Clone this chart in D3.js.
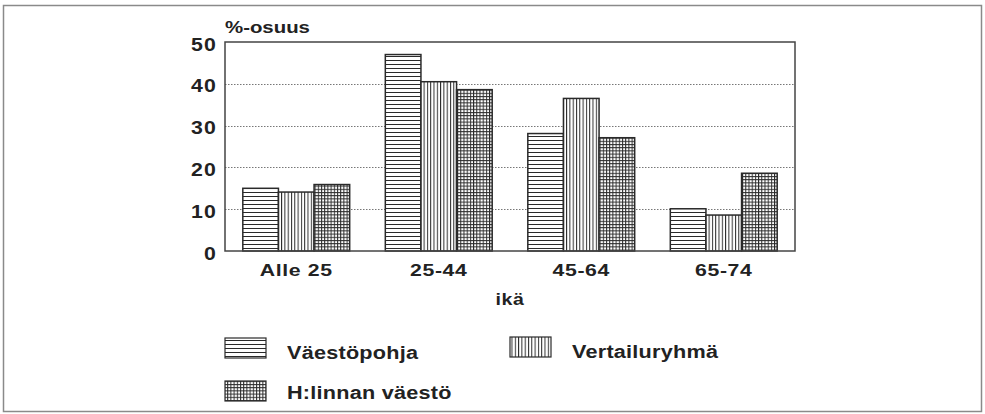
<!DOCTYPE html>
<html><head><meta charset="utf-8">
<script src="https://cdn.jsdelivr.net/npm/d3@7"></script>
<style>
html,body{margin:0;padding:0;background:#fff;}
text{font-family:"Liberation Sans",Arial,sans-serif;font-weight:bold;fill:#222;}
</style></head>
<body>
<svg id="chart" width="985" height="414"></svg>
<script>
const categories = ["Alle 25", "25-44", "45-64", "65-74"];
const seriesNames = ["Väestöpohja", "Vertailuryhmä", "H:linnan väestö"];
const vaestopohja = [15.0, 47.0, 28.1, 10.1];
const vertailuryhma = [14.1, 40.5, 36.5, 8.6];
const hlinnanVaesto = [15.9, 38.6, 27.1, 18.6];
const yTicks = [0, 10, 20, 30, 40, 50];
const yLabel = "%-osuus";
const xLabel = "ikä";

const seriesValues = [vaestopohja, vertailuryhma, hlinnanVaesto];
const patternIds = ["pH", "pV", "pX"];

const svg = d3.select("#chart");
const ink = "#2a2a2a";

// patterns
const defs = svg.append("defs");
const pH = defs.append("pattern").attr("id","pH").attr("patternUnits","userSpaceOnUse").attr("width",8).attr("height",4);
pH.append("rect").attr("width",8).attr("height",4).attr("fill","#fff");
pH.append("line").attr("x1",0).attr("x2",8).attr("y1",0.5).attr("y2",0.5).attr("stroke",ink).attr("stroke-width",1);
const pV = defs.append("pattern").attr("id","pV").attr("patternUnits","userSpaceOnUse").attr("width",3.3).attr("height",8);
pV.append("rect").attr("width",3.3).attr("height",8).attr("fill","#fff");
pV.append("line").attr("x1",0.5).attr("x2",0.5).attr("y1",0).attr("y2",8).attr("stroke",ink).attr("stroke-width",1);
const pX = defs.append("pattern").attr("id","pX").attr("patternUnits","userSpaceOnUse").attr("width",3.2).attr("height",3.2);
pX.append("rect").attr("width",3.2).attr("height",3.2).attr("fill","#fff");
pX.append("line").attr("x1",0.5).attr("x2",0.5).attr("y1",0).attr("y2",3.2).attr("stroke",ink).attr("stroke-width",1);
pX.append("line").attr("x1",0).attr("x2",3.2).attr("y1",0.5).attr("y2",0.5).attr("stroke",ink).attr("stroke-width",1);

// outer frame
svg.append("rect").attr("x",3.5).attr("y",5.5).attr("width",978).attr("height",406)
  .attr("fill","none").attr("stroke","#8a8a8a").attr("stroke-width",1.5);

const L = 225, R = 795, T = 42, B = 251;
const x = d3.scaleBand().domain(categories).range([L, R]).padding(0);
const xs = d3.scaleBand().domain(seriesNames).range([0, x.bandwidth()]).paddingInner(0).paddingOuter(0.5);
const y = d3.scaleLinear().domain([0, 50]).range([B, T]);

// gridlines
svg.append("g").selectAll("line").data(yTicks.filter(t => t > 0 && t < 50)).join("line")
  .attr("x1", L).attr("x2", R).attr("y1", d => Math.round(y(d))+0.5).attr("y2", d => Math.round(y(d))+0.5)
  .attr("stroke","#777").attr("stroke-width",1).attr("stroke-dasharray","1.5,1.5");

// bars
const groups = svg.append("g").selectAll("g").data(categories).join("g")
  .attr("transform", d => `translate(${x(d)},0)`);
groups.selectAll("rect").data((c, i) => seriesNames.map((s, j) => ({s, j, v: seriesValues[j][i]}))).join("rect")
  .attr("x", d => xs(d.s)).attr("width", xs.bandwidth())
  .attr("y", d => y(d.v)).attr("height", d => y(0) - y(d.v))
  .attr("fill", d => `url(#${patternIds[d.j]})`)
  .attr("stroke", ink).attr("stroke-width", 1.5);

// plot frame
svg.append("rect").attr("x",L).attr("y",T).attr("width",R-L).attr("height",B-T)
  .attr("fill","none").attr("stroke","#444").attr("stroke-width",1.5);

// y axis
const yAxis = d3.axisLeft(y).tickValues(yTicks).tickSize(0).tickPadding(8).tickFormat(d3.format("d"));
const ya = svg.append("g").attr("transform",`translate(${L},0)`).call(yAxis);
ya.select(".domain").remove();
ya.selectAll("text").style("font-size","18.5px").style("font-family","'Liberation Sans',Arial,sans-serif")
  .style("font-weight","bold").style("letter-spacing","1px").attr("fill","#222").attr("dy","0.44em")
  .attr("x", -7).attr("transform","scale(1.15,1)");

// x axis
const xAxis = d3.axisBottom(x).tickSize(0).tickPadding(13);
const xa = svg.append("g").attr("transform",`translate(0,${B})`).call(xAxis);
xa.select(".domain").remove();
xa.selectAll("text").style("font-size","17px").style("font-family","'Liberation Sans',Arial,sans-serif")
  .style("font-weight","bold").style("letter-spacing","0.5px").attr("fill","#222")
  .attr("transform","scale(1.25,1)");

svg.append("text").attr("transform","translate(225,33) scale(1.2,1)").style("font-size","17px").text(yLabel);
svg.append("text").attr("transform","translate(510,305) scale(1.15,1)").attr("text-anchor","middle")
  .style("font-size","17px").style("letter-spacing","0.5px").text(xLabel);

// legend
const legendPos = [{sx:225, sy:338, tx:287, ty:359}, {sx:510, sy:337, tx:572, ty:358}, {sx:225, sy:381, tx:287, ty:399}];
const lg = svg.append("g").selectAll("g").data(seriesNames).join("g");
lg.append("rect").attr("x",(d,i)=>legendPos[i].sx).attr("y",(d,i)=>legendPos[i].sy)
  .attr("width",41).attr("height",20).attr("fill",(d,i)=>`url(#${patternIds[i]})`)
  .attr("stroke",ink).attr("stroke-width",1.2);
lg.append("text").attr("transform",(d,i)=>`translate(${legendPos[i].tx},${legendPos[i].ty}) scale(1.17,1)`)
  .style("font-size","18.5px").style("letter-spacing","0.2px").text(d=>d);
</script>
</body></html>
